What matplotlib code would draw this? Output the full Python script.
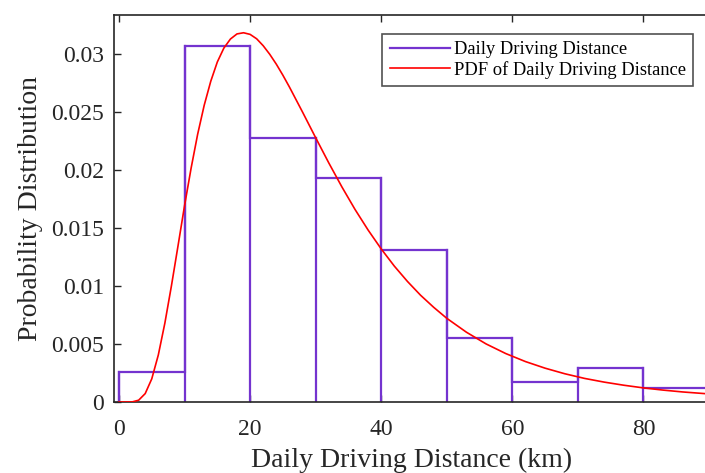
import numpy as np
import matplotlib
matplotlib.use('Agg')
import matplotlib.pyplot as plt

# histogram bins (km) and normalised heights
bin_edges = [0, 10, 20, 30, 40, 50, 60, 70, 80, 90]
bin_heights = [0.00259, 0.0307, 0.02276, 0.01936, 0.01307, 0.00552, 0.00169, 0.00296, 0.00117]

# fitted pdf
pdf_x = [0, 2, 3, 4, 5, 6, 7, 8, 9, 10, 11, 12, 13, 14, 15, 16, 17, 18, 19, 20,
         21, 22, 23, 24, 25, 26, 28, 30, 32, 34, 36, 38, 40, 42, 44, 46, 48, 50,
         53, 56, 59, 62, 65, 68, 71, 74, 77, 80, 83, 86, 90]
pdf_y = [0.0, 0.00001, 0.00016, 0.00073, 0.0020, 0.00406, 0.00681, 0.01002, 0.01345, 0.01693,
         0.02016, 0.02309, 0.02559, 0.02766, 0.02932, 0.03052, 0.0313, 0.03174, 0.03184, 0.0317,
         0.03132, 0.03072, 0.02998, 0.02913, 0.02818, 0.02716, 0.025, 0.02279, 0.02062, 0.01855,
         0.01661, 0.01483, 0.0132, 0.01172, 0.0104, 0.00921, 0.00817, 0.00722,
         0.00602, 0.00501, 0.00418, 0.00349, 0.00292, 0.00244, 0.00204, 0.00172, 0.00145,
         0.00122, 0.00103, 0.00087, 0.0007]

x_ticks = [0, 20, 40, 60, 80]
y_ticks = [0, 0.005, 0.01, 0.015, 0.02, 0.025, 0.03]
y_tick_labels = ['0', '0.005', '0.01', '0.015', '0.02', '0.025', '0.03']

plt.rcParams['font.family'] = ['Liberation Serif', 'DejaVu Serif']

fig = plt.figure(figsize=(7.05, 4.73), dpi=100)
ax = fig.add_axes([0.1617, 0.150, 0.844, 0.819])

bar_color = '#7433CF'
ax.stairs(bin_heights, bin_edges, color=bar_color, linewidth=1.6,
          label='Daily Driving Distance', zorder=2)
# inner vertical edges as in a histogram outline
for i in range(1, len(bin_edges) - 1):
    ax.plot([bin_edges[i], bin_edges[i]], [0, max(bin_heights[i - 1], bin_heights[i])],
            color=bar_color, linewidth=1.6, zorder=2)
ax.plot([bin_edges[0], bin_edges[0]], [0, bin_heights[0]], color=bar_color, linewidth=1.6, zorder=2)

ax.plot(pdf_x, pdf_y, color='#FF0000', linewidth=1.2, label='PDF of Daily Driving Distance', zorder=3)

ax.set_xlim(-0.76, 90)
ax.set_ylim(0, 0.0334)
ax.set_xticks(x_ticks)
ax.set_yticks(y_ticks)
ax.set_yticklabels(y_tick_labels)

ax.tick_params(direction='in', length=5, width=1, top=True, right=False,
               labelsize=17, colors='#262626')
ax.tick_params(axis='x', pad=12)
ax.tick_params(axis='y', pad=7)
for s in ax.spines.values():
    s.set_color('#262626')
    s.set_linewidth(1.2)

ax.set_xlabel('Daily Driving Distance (km)', fontsize=20, color='#262626', labelpad=6)
ax.set_ylabel('Probability Distribution', fontsize=20, color='#262626', labelpad=6)

leg = ax.legend(loc='upper right', bbox_to_anchor=(0.973, 0.951), fontsize=13.3,
                frameon=True, fancybox=False, edgecolor='#262626', handlelength=3.25,
                handletextpad=0.2, borderpad=0.4, labelspacing=0.15, borderaxespad=0)
leg.get_frame().set_linewidth(1.2)

fig.savefig('out.png', dpi=100)
